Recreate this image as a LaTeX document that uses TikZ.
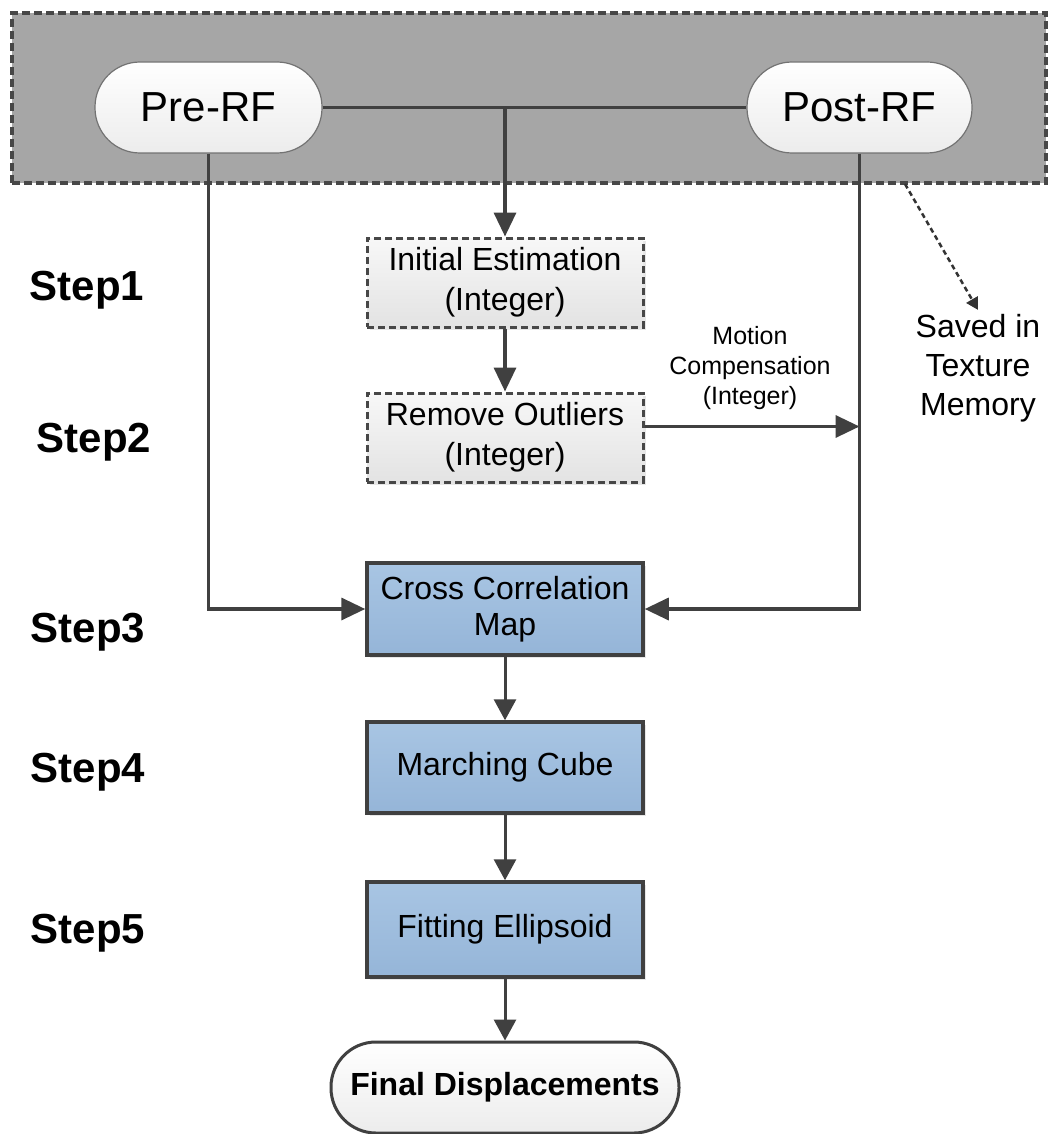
\documentclass[tikz,border=0pt]{standalone}
\usepackage{fontspec}
\setmainfont{Liberation Sans}
\usetikzlibrary{arrows.meta,shadows}
\definecolor{bandgray}{HTML}{A6A6A6}
\definecolor{linegray}{HTML}{404040}
\definecolor{dashgray}{HTML}{474747}
\definecolor{bluetop}{HTML}{A8C5E3}
\definecolor{bluebot}{HTML}{95B5D8}
\definecolor{pillbot}{HTML}{ECECEC}
\begin{document}
\begin{tikzpicture}[x=1pt,y=-1pt,
  band/.style={draw=dashgray, fill=bandgray, line width=3.2pt, dash pattern=on 8pt off 4pt, minimum width=1034pt, minimum height=170pt, inner sep=0pt},
  pill/.style={draw=black!55, line width=1.2pt, rounded corners=45pt, top color=white, bottom color=pillbot, minimum height=91pt, inner sep=0pt, font=\fontsize{42}{48}\selectfont,
    drop shadow={shadow xshift=3pt, shadow yshift=-3pt, fill=black!35, opacity=0.4}},
  endpill/.style={draw=linegray, line width=3pt, rounded corners=45pt, top color=white, bottom color=pillbot, minimum width=348pt, minimum height=91pt, inner sep=0pt, font=\bfseries\fontsize{32}{38}\selectfont},
  dbox/.style={draw=dashgray, line width=3pt, dash pattern=on 7pt off 4pt, top color=white!97!black, bottom color=white!89!black, minimum width=276pt, minimum height=89pt, inner sep=0pt, align=center, font=\fontsize{32}{40}\selectfont,
    drop shadow={shadow xshift=3pt, shadow yshift=-3pt, fill=black!30, opacity=0.3}},
  bbox/.style={draw=linegray, line width=3.5pt, top color=bluetop, bottom color=bluebot, minimum width=276pt, minimum height=92pt, inner sep=0pt, align=center, font=\fontsize{32}{36}\selectfont,
    drop shadow={shadow xshift=3pt, shadow yshift=-3pt, fill=black!30, opacity=0.3}},
  conn/.style={draw=linegray, line width=3.5pt},
  arr/.style={conn, -{Triangle[width=22pt,length=24pt]}},
  sarr/.style={draw=linegray, line width=3pt, -{Triangle[width=22pt,length=21pt]}},
  steplabel/.style={font=\bfseries\fontsize{42}{48}\selectfont, inner sep=0pt},
  note/.style={align=center, inner sep=0pt}
]
\useasboundingbox (0,0) rectangle (1050,1134);
\fill[white] (0,0) rectangle (1050,1134);

% top band
\node[band] (band) at (529,98) {};

% nodes
\node[pill, minimum width=227pt] (pre) at (208.5,107.5) {Pre-RF};
\node[pill, minimum width=225pt] (post) at (859.5,107.5) {Post-RF};

\node[dbox] (init) at (505,282.5) {Initial Estimation\\(Integer)};
\node[dbox] (rem) at (505,437.5) {Remove Outliers\\(Integer)};

\node[bbox] (ccm) at (505,609) {Cross Correlation\\Map};
\node[bbox, minimum height=91pt] (mc) at (505,767.5) {Marching Cube};
\node[bbox, minimum height=95pt] (fe) at (505,929.5) {Fitting Ellipsoid};
\node[endpill] (fd) at (505,1087.5) {Final Displacements};

\node[note, font=\fontsize{25}{30}\selectfont] (mclabel) at (750,368) {Motion\\Compensation\\(Integer)};
\node[note, font=\fontsize{32}{39}\selectfont, inner sep=4pt] (saved) at (978,368) {Saved in\\Texture\\Memory};

% step labels
\node[steplabel] (s1) at (87,290) {Step1};
\node[steplabel] (s2) at (94,442) {Step2};
\node[steplabel] (s3) at (88,632) {Step3};
\node[steplabel] (s4) at (88,772) {Step4};
\node[steplabel] (s5) at (88,933) {Step5};

% connectors
\draw[conn] (pre.east) -- (post.west);
\coordinate (j) at (init.north |- pre.east);
\draw[arr] (j) -- (init.north);
\draw[arr] (init.south) -- (rem.north);
\coordinate (ms) at ([yshift=11pt]rem.east);
\draw[arr] (ms) -- (ms -| post.south);
\draw[arr] (pre.south) |- (ccm.west);
\draw[arr] (post.south) |- (ccm.east);
\draw[sarr] (ccm.south) -- (mc.north);
\draw[sarr] (mc.south) -- (fe.north);
\draw[sarr] (fe.south) -- (fd.north);

% dashed arrow to texture memory
\coordinate (ds) at (905,184);
\draw[draw=black!80, line width=2.5pt, dash pattern=on 5pt off 3.5pt, -{Triangle[width=13pt,length=12pt]}] (ds) -- (saved.north);
\end{tikzpicture}
\end{document}
